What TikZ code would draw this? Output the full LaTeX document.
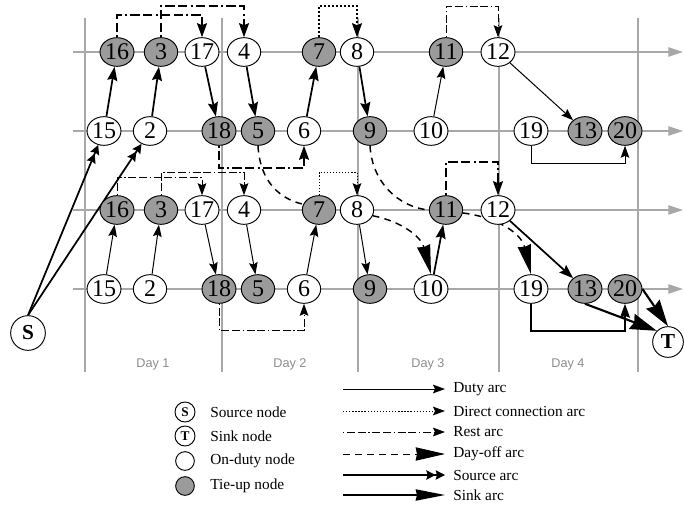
\documentclass[tikz,border=0pt]{standalone}
\usepackage{fontspec}
\setmainfont{Liberation Serif}
\newfontfamily\labelsans{Liberation Sans}
\usetikzlibrary{arrows.meta,shapes.geometric}
\pgfdeclarelayer{gridlayer}
\pgfdeclarelayer{arclayer}
\pgfsetlayers{gridlayer,arclayer,main}

\definecolor{tiegrey}{RGB}{155,155,155}
\definecolor{axisgrey}{RGB}{168,168,168}
\definecolor{daygrey}{RGB}{140,140,140}

\tikzset{
  onduty/.style={ellipse,draw=black,line width=0.7pt,fill=white,inner sep=0pt,
    minimum width=25pt,minimum height=21.5pt,font=\fontsize{18}{18}\selectfont},
  tieup/.style={onduty,fill=tiegrey},
  terminal/.style={circle,draw=black,line width=0.7pt,fill=white,inner sep=0pt,
    font=\bfseries\fontsize{16}{16}\selectfont},
  axis/.style={draw=axisgrey,line width=0.8pt},
  timeaxis/.style={axis,-{Triangle[length=11pt,width=7pt]}},
  daylabel/.style={font=\labelsans\fontsize{9.5}{9.5}\selectfont,text=daygrey},
  keytext/.style={anchor=west,inner sep=0pt,font=\fontsize{11.5}{11.5}\selectfont},
  dutyarc/.style={line width=0.75pt,-{Stealth[length=9pt,width=6.5pt,inset=1.5pt]}},
  dutybold/.style={line width=1.3pt,-{Stealth[length=10.5pt,width=7.5pt,inset=1.5pt]}},
  restarc/.style={dutyarc,dash pattern=on 1pt off 2pt on 6pt off 2pt on 6pt off 2pt},
  restbold/.style={dutybold,dash pattern=on 1.3pt off 2.5pt on 7pt off 2.5pt on 7pt off 2.5pt},
  directarc/.style={dutyarc,dash pattern=on 1pt off 1.3pt},
  directbold/.style={dutybold,dash pattern=on 1.5pt off 1.5pt},
  dayoffarc/.style={line width=1.1pt,dash pattern=on 5pt off 4pt,
    -{Stealth[length=22pt,width=10pt,inset=1pt]}},
  dayoffline/.style={line width=1.1pt,dash pattern=on 5pt off 4pt},
  sourcearc/.style={line width=1.3pt,
    -{Stealth[length=7pt,width=7pt,inset=1pt]Stealth[length=7pt,width=7pt,inset=1pt]}},
  sinkarc/.style={line width=1.6pt,-{Stealth[length=20pt,width=12pt,inset=2pt]}},
}

\begin{document}
\begin{tikzpicture}[x=0.75pt,y=-0.75pt]
\useasboundingbox (0,0) rectangle (684,506);

% time axes and day separators
\begin{pgfonlayer}{gridlayer}
  \foreach \yy in {52,131,210,289}
    \draw[timeaxis] (73,\yy) -- (683,\yy);
  \foreach \xx in {85,222,358,499,638}
    \draw[axis] (\xx,18) -- (\xx,372);
\end{pgfonlayer}

\node[daylabel] (day1) at (153,364) {Day 1};
\node[daylabel] (day2) at (290,364) {Day 2};
\node[daylabel] (day3) at (428,364) {Day 3};
\node[daylabel] (day4) at (568,364) {Day 4};

% upper network
\node[tieup]  (u16) at (117,52) {16};
\node[tieup]  (u3)  at (161,52) {3};
\node[onduty] (u17) at (202,52) {17};
\node[onduty] (u4)  at (244,52) {4};
\node[tieup]  (u7)  at (319,52) {7};
\node[onduty] (u8)  at (357,52) {8};
\node[tieup]  (u11) at (446,52) {11};
\node[onduty] (u12) at (498,52) {12};

\node[onduty] (u15) at (104,131) {15};
\node[onduty] (u2)  at (150,131) {2};
\node[tieup]  (u18) at (219,131) {18};
\node[tieup]  (u5)  at (258,131) {5};
\node[onduty] (u6)  at (304,131) {6};
\node[tieup]  (u9)  at (370,131) {9};
\node[onduty] (u10) at (431,131) {10};
\node[onduty] (u19) at (531,131) {19};
\node[tieup]  (u13) at (585,131) {13};
\node[tieup]  (u20) at (625,131) {20};

% lower network
\node[tieup]  (l16) at (117,210) {16};
\node[tieup]  (l3)  at (161,210) {3};
\node[onduty] (l17) at (202,210) {17};
\node[onduty] (l4)  at (244,210) {4};
\node[tieup]  (l7)  at (319,210) {7};
\node[onduty] (l8)  at (357,210) {8};
\node[tieup]  (l11) at (446,210) {11};
\node[onduty] (l12) at (498,210) {12};

\node[onduty] (l15) at (104,289) {15};
\node[onduty] (l2)  at (150,289) {2};
\node[tieup]  (l18) at (219,289) {18};
\node[tieup]  (l5)  at (258,289) {5};
\node[onduty] (l6)  at (304,289) {6};
\node[tieup]  (l9)  at (370,289) {9};
\node[onduty] (l10) at (431,289) {10};
\node[onduty] (l19) at (531,289) {19};
\node[tieup]  (l13) at (585,289) {13};
\node[tieup]  (l20) at (625,289) {20};

% source and sink
\node[terminal,minimum size=26pt] (S) at (28,333) {S};
\node[terminal,minimum size=23pt] (T) at (668,342) {T};

\begin{pgfonlayer}{arclayer}
  % upper network arcs
  \draw[sourcearc] (S.north) -- (u15);
  \draw[sourcearc] (S.north) -- (u2);
  \draw[dutybold] (u15) -- (u16);
  \draw[dutybold] (u2) -- (u3);
  \draw[dutybold] (u17) -- (u18);
  \draw[dutybold] (u4) -- (u5);
  \draw[dutybold] (u6) -- (u7);
  \draw[dutybold] (u8) -- (u9);
  \draw[dutyarc] (u10) -- (u11);
  \draw[dutyarc] (u12) -- (u13);
  \draw[dutyarc] (u19.south) -- ++(0,18) -| (u20.south);
  \draw[restbold] (u16.north) -- ++(0,-22) -| (u17.north);
  \draw[restbold] (u3.north) -- ++(0,-31) -| (u4.north);
  \draw[directbold] (u7.north) -- ++(0,-31) -| (u8.north);
  \draw[restarc] (u11.north) -- ++(0,-31) -| (u12.north);
  \draw[restbold] (u18.south) -- ++(0,22) -| (u6.south);
  \draw[dayoffline] (u5.south) .. controls (260,182) and (280,199) .. (l7.160);
  \draw[dayoffline] (u9.south) .. controls (372,182) and (398,207) .. (l11.west);

  % lower network arcs
  \draw[dutyarc] (l15) -- (l16);
  \draw[dutyarc] (l2) -- (l3);
  \draw[dutyarc] (l17) -- (l18);
  \draw[dutyarc] (l4) -- (l5);
  \draw[dutyarc] (l6) -- (l7);
  \draw[dutyarc] (l8) -- (l9);
  \draw[dutybold] (l10) -- (l11);
  \draw[dutybold] (l12) -- (l13);
  \draw[dutybold] (l19.south) -- ++(0,27) -| (l20.south);
  \draw[restarc] (l16.north) -- ++(0,-18) -| (l17.north);
  \draw[restarc] (l3.north) -- ++(0,-23) -| (l4.north);
  \draw[directarc] (l7.north) -- ++(0,-23) -| (l8.north);
  \draw[restbold] (l11.north) -- ++(0,-33) -| (l12.north);
  \draw[restarc] (l18.south) -- ++(0,27) -| (l6.south);
  \draw[dayoffarc] (l8.-20) .. controls (400,221) and (421,236) .. (l10.north);
  \draw[dayoffarc] (l11.-10) .. controls (495,217) and (521,232) .. (l19.north);
  \draw[sinkarc] (l13.south) -- (T.north west);
  \draw[sinkarc] (l20.east) -- (T.north);
\end{pgfonlayer}

% node key
\node[terminal,minimum size=15pt,font=\bfseries\fontsize{10}{10}\selectfont] (keyS) at (185,412) {S};
\node[terminal,minimum size=15pt,font=\bfseries\fontsize{10}{10}\selectfont] (keyT) at (185,436) {T};
\node[circle,draw=black,line width=0.7pt,fill=white,minimum size=14pt,inner sep=0pt] (keyOn) at (185,461) {};
\node[circle,draw=black,line width=0.7pt,fill=tiegrey,minimum size=14pt,inner sep=0pt] (keyTie) at (185,486) {};
\node[keytext] (keySt) at (210,412) {Source node};
\node[keytext] (keyTt) at (210,436) {Sink node};
\node[keytext] (keyOnt) at (210,461) {On-duty node};
\node[keytext] (keyTiet) at (210,486) {Tie-up node};

% arc key
\coordinate (ka1) at (343,389); \coordinate (kb1) at (445,389);
\coordinate (ka2) at (343,411); \coordinate (kb2) at (445,411);
\coordinate (ka3) at (343,432); \coordinate (kb3) at (445,432);
\coordinate (ka4) at (343,454); \coordinate (kb4) at (445,454);
\coordinate (ka5) at (343,475); \coordinate (kb5) at (445,475);
\coordinate (ka6) at (343,495); \coordinate (kb6) at (445,495);
\draw[dutyarc] (ka1) -- (kb1);
\draw[directarc] (ka2) -- (kb2);
\draw[restarc] (ka3) -- (kb3);
\draw[dayoffarc,line width=0.75pt] (ka4) -- (kb4);
\draw[sourcearc,line width=0.9pt] (ka5) -- (kb5);
\draw[line width=0.9pt,-{Stealth[length=22pt,width=8.5pt,inset=1pt]}] (ka6) -- (kb6);
\node[keytext] (kt1) at (453,389) {Duty arc};
\node[keytext] (kt2) at (453,411) {Direct connection arc};
\node[keytext] (kt3) at (453,432) {Rest arc};
\node[keytext] (kt4) at (453,454) {Day-off arc};
\node[keytext] (kt5) at (453,475) {Source arc};
\node[keytext] (kt6) at (453,495) {Sink arc};
\end{tikzpicture}
\end{document}
